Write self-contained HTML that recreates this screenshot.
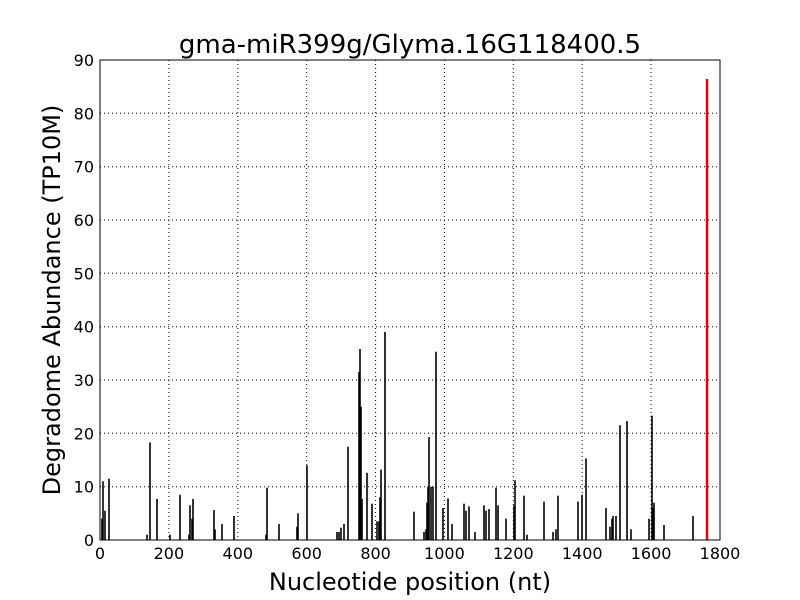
<!DOCTYPE html>
<html><head><meta charset="utf-8"><style>body{margin:0;background:#fff}svg{display:block}text{font-family:"DejaVu Sans","Liberation Sans",sans-serif}</style></head><body>
<svg width="800" height="600" xmlns="http://www.w3.org/2000/svg">
<rect width="800" height="600" fill="#fff"/>
<g stroke="#000" stroke-width="1" stroke-dasharray="1,3">
<line x1="168.9" y1="60" x2="168.9" y2="540"/><line x1="237.8" y1="60" x2="237.8" y2="540"/><line x1="306.7" y1="60" x2="306.7" y2="540"/><line x1="375.6" y1="60" x2="375.6" y2="540"/><line x1="444.4" y1="60" x2="444.4" y2="540"/><line x1="513.3" y1="60" x2="513.3" y2="540"/><line x1="582.2" y1="60" x2="582.2" y2="540"/><line x1="651.1" y1="60" x2="651.1" y2="540"/>
<line x1="100" y1="486.7" x2="720" y2="486.7"/><line x1="100" y1="433.3" x2="720" y2="433.3"/><line x1="100" y1="380" x2="720" y2="380"/><line x1="100" y1="326.7" x2="720" y2="326.7"/><line x1="100" y1="273.3" x2="720" y2="273.3"/><line x1="100" y1="220" x2="720" y2="220"/><line x1="100" y1="166.7" x2="720" y2="166.7"/><line x1="100" y1="113.3" x2="720" y2="113.3"/>
</g>
<g stroke="#000" stroke-width="1.6">
<line x1="102" x2="102" y1="540" y2="518.7"/><line x1="103" x2="103" y1="540" y2="481.3"/><line x1="105" x2="105" y1="540" y2="510.7"/><line x1="109" x2="109" y1="540" y2="478.7"/><line x1="147" x2="147" y1="540" y2="534.7"/><line x1="150" x2="150" y1="540" y2="442.4"/><line x1="157" x2="157" y1="540" y2="498.9"/><line x1="170" x2="170" y1="540" y2="534.7"/><line x1="180" x2="180" y1="540" y2="494.7"/><line x1="189" x2="189" y1="540" y2="534.7"/><line x1="190" x2="190" y1="540" y2="505.3"/><line x1="192" x2="192" y1="540" y2="518.7"/><line x1="193" x2="193" y1="540" y2="498.9"/><line x1="214" x2="214" y1="540" y2="510.1"/><line x1="215" x2="215" y1="540" y2="529.3"/><line x1="222" x2="222" y1="540" y2="524"/><line x1="234" x2="234" y1="540" y2="516"/><line x1="266" x2="266" y1="540" y2="534.7"/><line x1="267" x2="267" y1="540" y2="487.7"/><line x1="279" x2="279" y1="540" y2="524"/><line x1="297" x2="297" y1="540" y2="526.7"/><line x1="298" x2="298" y1="540" y2="513.3"/><line x1="307" x2="307" y1="540" y2="465.3"/><line x1="337" x2="337" y1="540" y2="532"/><line x1="339" x2="339" y1="540" y2="532"/><line x1="341" x2="341" y1="540" y2="527.7"/><line x1="344" x2="344" y1="540" y2="524"/><line x1="348" x2="348" y1="540" y2="446.7"/><line x1="359" x2="359" y1="540" y2="372"/><line x1="360" x2="360" y1="540" y2="349.1"/><line x1="361" x2="361" y1="540" y2="406.7"/><line x1="362" x2="362" y1="540" y2="498.9"/><line x1="367" x2="367" y1="540" y2="472.8"/><line x1="372" x2="372" y1="540" y2="503.7"/><line x1="377" x2="377" y1="540" y2="521.3"/><line x1="379" x2="379" y1="540" y2="521.3"/><line x1="380" x2="380" y1="540" y2="497.3"/><line x1="381" x2="381" y1="540" y2="469.6"/><line x1="385" x2="385" y1="540" y2="332"/><line x1="414" x2="414" y1="540" y2="511.7"/><line x1="424" x2="424" y1="540" y2="532"/><line x1="426" x2="426" y1="540" y2="529.3"/><line x1="427" x2="427" y1="540" y2="502.7"/><line x1="428" x2="428" y1="540" y2="486.7"/><line x1="429" x2="429" y1="540" y2="437.1"/><line x1="431" x2="431" y1="540" y2="486.7"/><line x1="433" x2="433" y1="540" y2="486.7"/><line x1="436" x2="436" y1="540" y2="351.7"/><line x1="443" x2="443" y1="540" y2="508"/><line x1="448" x2="448" y1="540" y2="498.4"/><line x1="452" x2="452" y1="540" y2="524"/><line x1="464" x2="464" y1="540" y2="503.7"/><line x1="466" x2="466" y1="540" y2="510.7"/><line x1="469" x2="469" y1="540" y2="506.4"/><line x1="475" x2="475" y1="540" y2="532"/><line x1="484" x2="484" y1="540" y2="505.3"/><line x1="486" x2="486" y1="540" y2="510.7"/><line x1="489" x2="489" y1="540" y2="509.1"/><line x1="496" x2="496" y1="540" y2="487.7"/><line x1="498" x2="498" y1="540" y2="505.3"/><line x1="506" x2="506" y1="540" y2="518.7"/><line x1="514" x2="514" y1="540" y2="505.3"/><line x1="515" x2="515" y1="540" y2="480.3"/><line x1="524" x2="524" y1="540" y2="495.7"/><line x1="527" x2="527" y1="540" y2="534.7"/><line x1="544" x2="544" y1="540" y2="501.6"/><line x1="553" x2="553" y1="540" y2="532"/><line x1="556" x2="556" y1="540" y2="529.3"/><line x1="558" x2="558" y1="540" y2="495.7"/><line x1="578" x2="578" y1="540" y2="501.6"/><line x1="582" x2="582" y1="540" y2="494.7"/><line x1="586" x2="586" y1="540" y2="458.4"/><line x1="606" x2="606" y1="540" y2="508"/><line x1="610" x2="610" y1="540" y2="526.7"/><line x1="612" x2="612" y1="540" y2="518.7"/><line x1="613" x2="613" y1="540" y2="516"/><line x1="616" x2="616" y1="540" y2="516"/><line x1="620" x2="620" y1="540" y2="425.3"/><line x1="627" x2="627" y1="540" y2="421.1"/><line x1="631" x2="631" y1="540" y2="529.3"/><line x1="649" x2="649" y1="540" y2="518.7"/><line x1="652" x2="652" y1="540" y2="415.7"/><line x1="653" x2="653" y1="540" y2="508"/><line x1="654" x2="654" y1="540" y2="502.7"/><line x1="664" x2="664" y1="540" y2="525.1"/><line x1="693" x2="693" y1="540" y2="516"/>
</g>
<line x1="707" y1="540" x2="707" y2="79" stroke="#e00" stroke-width="2.5"/>
<rect x="100" y="60" width="620" height="480" fill="none" stroke="#000" stroke-width="1"/>
<g font-size="16" text-anchor="middle">
<text x="100" y="559">0</text><text x="168.9" y="559">200</text><text x="237.8" y="559">400</text><text x="306.7" y="559">600</text><text x="375.6" y="559">800</text><text x="444.4" y="559">1000</text><text x="513.3" y="559">1200</text><text x="582.2" y="559">1400</text><text x="651.1" y="559">1600</text><text x="720" y="559">1800</text>
</g>
<g font-size="16" text-anchor="end">
<text x="94" y="546">0</text><text x="94" y="492.7">10</text><text x="94" y="439.3">20</text><text x="94" y="386">30</text><text x="94" y="332.7">40</text><text x="94" y="279.3">50</text><text x="94" y="226">60</text><text x="94" y="172.7">70</text><text x="94" y="119.3">80</text><text x="94" y="66">90</text>
</g>
<text x="410" y="53" font-size="26" text-anchor="middle">gma-miR399g/Glyma.16G118400.5</text>
<text x="410" y="590" font-size="24" text-anchor="middle">Nucleotide position (nt)</text>
<text x="60" y="300" font-size="24" text-anchor="middle" transform="rotate(-90 60 300)">Degradome Abundance (TP10M)</text>
</svg>
</body></html>
